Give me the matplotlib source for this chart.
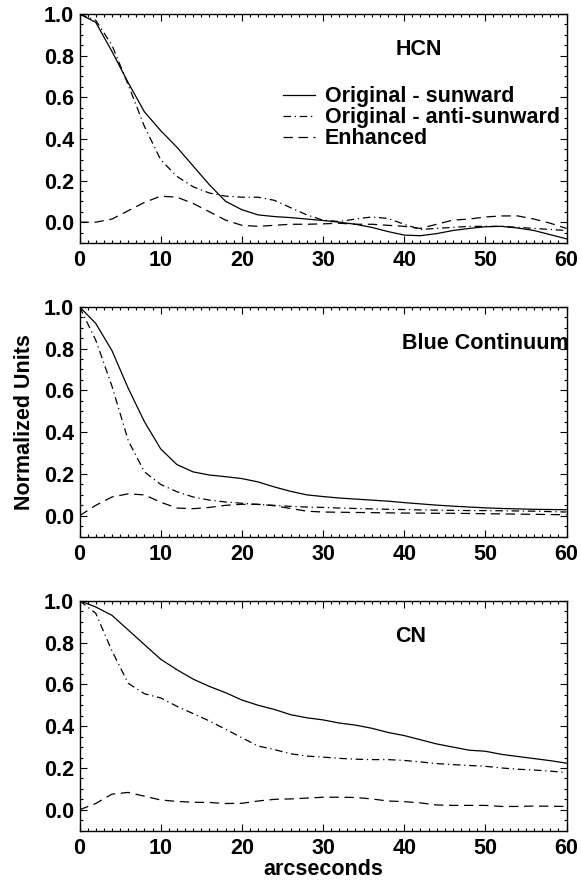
import matplotlib
matplotlib.use("Agg")
import matplotlib.pyplot as plt
import numpy as np

# ── Data (every 2 arcsec) ─────────────────────────────────────────────────────
arcsec = np.arange(0, 61, 2)

hcn_sun = [1.0, 0.96, 0.82, 0.67, 0.53, 0.44, 0.36, 0.27, 0.18, 0.10, 0.06,
           0.035, 0.027, 0.022, 0.015, 0.008, 0.0, -0.01, -0.025, -0.045,
           -0.062, -0.065, -0.055, -0.04, -0.03, -0.022, -0.02, -0.028, -0.04,
           -0.06, -0.08]
hcn_anti = [1.0, 0.97, 0.85, 0.66, 0.46, 0.30, 0.22, 0.17, 0.14, 0.125, 0.12,
            0.12, 0.105, 0.07, 0.035, 0.01, 0.003, 0.015, 0.025, 0.018, -0.01,
            -0.035, -0.03, -0.025, -0.02, -0.02, -0.02, -0.025, -0.03, -0.035,
            -0.04]
hcn_enh = [0.0, 0.0, 0.015, 0.055, 0.095, 0.125, 0.12, 0.09, 0.05, 0.01,
           -0.015, -0.02, -0.015, -0.01, -0.01, -0.008, -0.005, -0.01, -0.01,
           -0.015, -0.02, -0.03, -0.01, 0.01, 0.015, 0.025, 0.03, 0.03, 0.015,
           -0.005, -0.03]

blue_sun = [1.0, 0.92, 0.79, 0.61, 0.45, 0.32, 0.245, 0.21, 0.195, 0.187,
            0.178, 0.162, 0.138, 0.117, 0.10, 0.092, 0.085, 0.08, 0.075, 0.07,
            0.063, 0.057, 0.051, 0.046, 0.042, 0.038, 0.035, 0.033, 0.031,
            0.03, 0.029]
blue_anti = [1.0, 0.84, 0.62, 0.36, 0.21, 0.15, 0.115, 0.09, 0.075, 0.066,
             0.06, 0.054, 0.05, 0.045, 0.042, 0.04, 0.037, 0.035, 0.033, 0.031,
             0.03, 0.028, 0.027, 0.026, 0.025, 0.025, 0.024, 0.023, 0.022,
             0.02, 0.018]
blue_enh = [0.0, 0.05, 0.09, 0.105, 0.10, 0.065, 0.037, 0.034, 0.04, 0.05,
            0.055, 0.055, 0.048, 0.035, 0.022, 0.018, 0.017, 0.016, 0.015,
            0.014, 0.013, 0.013, 0.012, 0.012, 0.011, 0.01, 0.009, 0.008,
            0.007, 0.006, 0.005]

cn_sun = [1.0, 0.97, 0.93, 0.86, 0.79, 0.72, 0.67, 0.625, 0.59, 0.56, 0.525,
          0.50, 0.48, 0.455, 0.44, 0.43, 0.415, 0.405, 0.39, 0.37, 0.355,
          0.335, 0.315, 0.30, 0.285, 0.28, 0.265, 0.255, 0.245, 0.235, 0.223]
cn_anti = [1.0, 0.94, 0.76, 0.605, 0.555, 0.535, 0.495, 0.46, 0.425, 0.385,
           0.345, 0.305, 0.288, 0.268, 0.257, 0.252, 0.246, 0.242, 0.24, 0.24,
           0.236, 0.229, 0.221, 0.216, 0.212, 0.208, 0.20, 0.194, 0.19, 0.185,
           0.178]
cn_enh = [0.0, 0.03, 0.075, 0.083, 0.065, 0.047, 0.04, 0.036, 0.035, 0.03,
          0.031, 0.042, 0.05, 0.052, 0.056, 0.06, 0.06, 0.059, 0.052, 0.042,
          0.039, 0.033, 0.023, 0.021, 0.021, 0.021, 0.016, 0.016, 0.018, 0.017,
          0.016]

panel_names = ["HCN", "Blue Continuum", "CN"]
series_labels = ["Original - sunward", "Original - anti-sunward", "Enhanced"]

# ── Style ─────────────────────────────────────────────────────────────────────
FS = 15.5
plt.rcParams["font.family"] = ["Liberation Sans", "DejaVu Sans"]
plt.rcParams["font.weight"] = "bold"
plt.rcParams["font.size"] = FS
plt.rcParams["axes.linewidth"] = 1.0

DASHDOT = (0, (6, 3, 1, 3))
DASHED = (0, (7.5, 4.5))

fig = plt.figure(figsize=(5.81, 8.82), dpi=100)

left, width = 79.5 / 581, (566.5 - 79.5) / 581
tops = [14, 306.7, 600.7]
bottoms = [243, 536.7, 830.7]

panels = [
    (hcn_sun, hcn_anti, hcn_enh),
    (blue_sun, blue_anti, blue_enh),
    (cn_sun, cn_anti, cn_enh),
]

axes = []
for i, (sun, anti, enh) in enumerate(panels):
    b = 1 - bottoms[i] / 882
    h = (bottoms[i] - tops[i]) / 882
    ax = fig.add_axes([left, b, width, h])
    axes.append(ax)

    ax.plot(arcsec, sun, color="black", lw=0.9, linestyle="-", label=series_labels[0])
    ax.plot(arcsec, anti, color="black", lw=0.9, linestyle=DASHDOT, label=series_labels[1])
    ax.plot(arcsec, enh, color="black", lw=0.9, linestyle=DASHED, label=series_labels[2])

    ax.set_xlim(0, 60)
    ax.set_ylim(-0.1, 1.0)
    ax.set_xticks(np.arange(0, 61, 10))
    ax.set_xticks(np.arange(0, 61, 1), minor=True)
    ax.set_yticks(np.arange(0, 1.01, 0.2))
    ax.set_yticks(np.arange(-0.1, 1.001, 0.05), minor=True)
    ax.yaxis.set_major_formatter(plt.FormatStrFormatter("%.1f"))
    ax.tick_params(which="both", direction="in", top=True, right=True, width=0.8)
    ax.tick_params(which="major", length=5)
    ax.tick_params(which="minor", length=2.5)
    ax.tick_params(axis="x", which="major", pad=5)
    ax.tick_params(axis="y", which="major", pad=4)
    for lab in ax.get_xticklabels() + ax.get_yticklabels():
        lab.set_fontweight("bold")

# panel titles
axes[0].text(41.8, 0.83, panel_names[0], ha="center", va="center",
             fontsize=FS, fontweight="bold")
axes[1].text(60.3, 0.825, panel_names[1], ha="right", va="center",
             fontsize=FS, fontweight="bold")
axes[2].text(40.8, 0.83, panel_names[2], ha="center", va="center",
             fontsize=FS, fontweight="bold")

leg = axes[0].legend(loc="upper left", bbox_to_anchor=(0.418, 0.685),
                     frameon=False, borderaxespad=0, borderpad=0,
                     handlelength=1.5, handletextpad=0.45, labelspacing=0.0,
                     prop={"weight": "bold", "size": FS})

axes[1].set_ylabel("Normalized Units", fontweight="bold", fontsize=FS, labelpad=6)
axes[2].set_xlabel("arcseconds", fontweight="bold", fontsize=FS, labelpad=0)

fig.savefig("out.png", dpi=100)
